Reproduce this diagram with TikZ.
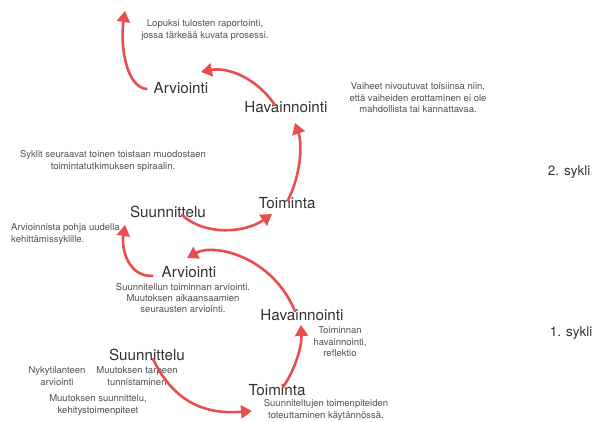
\documentclass[tikz,border=0pt]{standalone}
\usepackage{fontspec}
\setmainfont{TeX Gyre Heros}
\usetikzlibrary{arrows.meta}
\definecolor{arrowred}{RGB}{232,78,80}
\definecolor{bigtext}{RGB}{50,50,50}
\definecolor{smalltext}{RGB}{80,80,80}
\tikzset{
  phase/.style={text=bigtext, font=\fontsize{15.2}{17}\selectfont, inner sep=0pt},
  cyc/.style={text=bigtext, font=\fontsize{13.5}{15}\selectfont, inner sep=0pt},
  note/.style={text=smalltext, font=\fontsize{9.5}{11.4}\selectfont, align=center, inner sep=0pt},
  flow/.style={draw=arrowred, line width=2.6pt, line cap=round,
    -{Triangle[width=13pt,length=11pt]}},
}
\begin{document}
\begin{tikzpicture}[x=1pt,y=-1pt]
\useasboundingbox (0,0) rectangle (597,422);
% phase labels
\node[phase] (arv2) at (181,88) {Arviointi};
\node[phase] (hav2) at (286,107) {Havainnointi};
\node[phase] (toi2) at (287,203) {Toiminta};
\node[phase] (suu2) at (168,212) {Suunnittelu};
\node[phase] (arv1) at (189,272) {Arviointi};
\node[phase] (hav1) at (302,315) {Havainnointi};
\node[phase] (suu1) at (147,355) {Suunnittelu};
\node[phase] (toi1) at (277,390) {Toiminta};
% cycle labels
\node[cyc] (c2) at (569,172) {2. sykli};
\node[cyc] (c1) at (571,333) {1. sykli};
% notes
\node[note] (n1) at (205,30) {Lopuksi tulosten raportointi,\\jossa tärkeää kuvata prosessi.};
\node[note] (n2) at (418,98) {Vaiheet nivoutuvat toisiinsa niin,\\että vaiheiden erottaminen ei ole\\mahdollista tai kannattavaa.};
\node[note] (n3) at (113,161) {Syklit seuraavat toinen toistaan muodostaen\\toimintatutkimuksen spiraalin.};
\node[note, align=left, anchor=west] (n4) at (11,234) {Arvioinnista pohja uudella\\kehittämissyklille.};
\node[note] (n5) at (183,298) {Suunnitellun toiminnan arviointi.\\Muutoksen aikaansaamien\\seurausten arviointi.};
\node[note] (n6) at (340,342) {Toiminnan\\havainnointi,\\reflektio};
\node[note] (n7) at (57,376) {Nykytilanteen\\arviointi};
\node[note] (n8) at (137,376) {Muutoksen tarpeen\\tunnistaminen};
\node[note] (n9) at (98,405) {Muutoksen suunnittelu,\\kehitystoimenpiteet};
\node[note] (n10) at (326,410) {Suunniteltujen toimenpiteiden\\toteuttaminen käytännössä.};
% connector ends
\coordinate (top) at (125,11);
\coordinate (a2in) at (201,72);
\coordinate (h2in) at (295,123);
\coordinate (t2in) at (272,214);
\coordinate (s2in) at (125,225);
\coordinate (a1in) at (187,258);
\coordinate (h1in) at (301,325);
\coordinate (t1in) at (252,411);
% connectors
\draw[flow] ([xshift=-7pt,yshift=-1pt]arv2.west) .. controls (126,87) and (120,45) .. (top);
\draw[flow] ([xshift=-11pt,yshift=-4pt]hav2.north) .. controls (255,76) and (226,67) .. (a2in);
\draw[flow] ([xshift=1pt,yshift=-3pt]toi2.north) .. controls (300,176) and (303,146) .. (h2in);
\draw[flow] ([xshift=14pt,yshift=3pt]suu2.south) .. controls (205,236) and (245,233) .. (t2in);
\draw[flow] ([xshift=-9pt,yshift=2pt]arv1.south west) .. controls (129,277) and (121,250) .. (s2in);
\draw[flow] ([xshift=-7pt,yshift=-2pt]hav1.north) .. controls (272,256) and (214,243) .. (a1in);
\draw[flow] ([xshift=6pt,yshift=-3pt]toi1.north) .. controls (295,370) and (302,346) .. (h1in);
\draw[flow] ([xshift=6pt,yshift=2pt]suu1.south) .. controls (172,398) and (200,415) .. (t1in);
\end{tikzpicture}
\end{document}
